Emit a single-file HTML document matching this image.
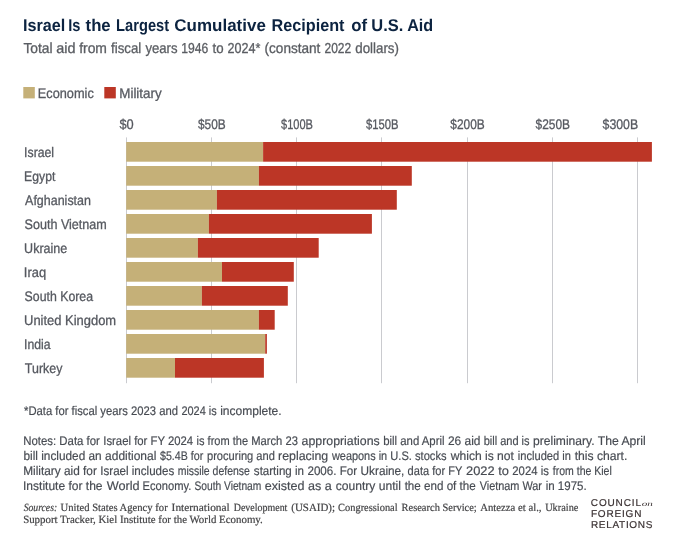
<!DOCTYPE html>
<html lang="en"><head><meta charset="utf-8"><title>Israel Is the Largest Cumulative Recipient of U.S. Aid</title>
<style>html,body{margin:0;padding:0;background:#fff}svg{display:block}text{text-rendering:geometricPrecision}</style></head>
<body>
<svg width="677" height="542" viewBox="0 0 677 542">
<rect width="677" height="542" fill="#ffffff"/>
<rect x="126" y="137.4" width="1" height="245.8" fill="#cacbcf"/>
<rect x="211" y="137.4" width="1" height="245.8" fill="#cacbcf"/>
<rect x="296" y="137.4" width="1" height="245.8" fill="#cacbcf"/>
<rect x="381" y="137.4" width="1" height="245.8" fill="#cacbcf"/>
<rect x="467" y="137.4" width="1" height="245.8" fill="#cacbcf"/>
<rect x="552" y="137.4" width="1" height="245.8" fill="#cacbcf"/>
<rect x="637" y="137.4" width="1" height="245.8" fill="#cacbcf"/>
<rect x="23.3" y="87.0" width="11.5" height="11.4" fill="#c5b078"/>
<rect x="104.3" y="87.0" width="11.5" height="11.4" fill="#bc3626"/>
<rect x="126.2" y="142" width="136.9" height="19.7" fill="#c5b078"/><rect x="263.1" y="142" width="388.8" height="19.7" fill="#bc3626"/>
<rect x="126.2" y="166" width="132.7" height="19.7" fill="#c5b078"/><rect x="258.9" y="166" width="152.9" height="19.7" fill="#bc3626"/>
<rect x="126.2" y="190" width="90.7" height="19.7" fill="#c5b078"/><rect x="216.9" y="190" width="179.9" height="19.7" fill="#bc3626"/>
<rect x="126.2" y="214" width="82.7" height="19.7" fill="#c5b078"/><rect x="208.9" y="214" width="163.0" height="19.7" fill="#bc3626"/>
<rect x="126.2" y="238" width="71.7" height="19.7" fill="#c5b078"/><rect x="197.9" y="238" width="120.8" height="19.7" fill="#bc3626"/>
<rect x="126.2" y="262" width="95.8" height="19.7" fill="#c5b078"/><rect x="222.0" y="262" width="71.8" height="19.7" fill="#bc3626"/>
<rect x="126.2" y="286" width="75.7" height="19.7" fill="#c5b078"/><rect x="201.9" y="286" width="85.9" height="19.7" fill="#bc3626"/>
<rect x="126.2" y="310" width="132.7" height="19.7" fill="#c5b078"/><rect x="258.9" y="310" width="15.8" height="19.7" fill="#bc3626"/>
<rect x="126.2" y="334" width="139.0" height="19.7" fill="#c5b078"/><rect x="265.2" y="334" width="1.7" height="19.7" fill="#bc3626"/>
<rect x="126.2" y="358" width="48.8" height="19.7" fill="#c5b078"/><rect x="175.0" y="358" width="88.9" height="19.7" fill="#bc3626"/>
<text y="30.60" font-family='"Liberation Sans", Arial, sans-serif' font-size="17" font-weight="bold" fill="#0c2340"><tspan x="23.00" textLength="42.35" lengthAdjust="spacingAndGlyphs" >Israel</tspan> <tspan x="68.30" textLength="12.20" lengthAdjust="spacingAndGlyphs" >Is</tspan> <tspan x="85.55" textLength="25.15" lengthAdjust="spacingAndGlyphs" >the</tspan> <tspan x="116.10" textLength="53.00" lengthAdjust="spacingAndGlyphs" >Largest</tspan> <tspan x="174.35" textLength="91.50" lengthAdjust="spacingAndGlyphs" >Cumulative</tspan> <tspan x="271.50" textLength="73.00" lengthAdjust="spacingAndGlyphs" >Recipient</tspan> <tspan x="351.15" textLength="15.85" lengthAdjust="spacingAndGlyphs" >of</tspan> <tspan x="371.30" textLength="32.00" lengthAdjust="spacingAndGlyphs" >U.S.</tspan> <tspan x="407.15" textLength="26.00" lengthAdjust="spacingAndGlyphs" >Aid</tspan></text>
<text y="53.40" font-family='"Liberation Sans", Arial, sans-serif' font-size="14.5" font-weight="normal" fill="#5a5d62" stroke="#5a5d62" stroke-width="0.3"><tspan x="23.40" textLength="29.20" lengthAdjust="spacingAndGlyphs" >Total</tspan> <tspan x="56.15" textLength="19.30" lengthAdjust="spacingAndGlyphs" >aid</tspan> <tspan x="79.15" textLength="27.80" lengthAdjust="spacingAndGlyphs" >from</tspan> <tspan x="111.00" textLength="30.25" lengthAdjust="spacingAndGlyphs" >fiscal</tspan> <tspan x="145.45" textLength="32.10" lengthAdjust="spacingAndGlyphs" >years</tspan> <tspan x="181.20" textLength="27.00" lengthAdjust="spacingAndGlyphs" >1946</tspan> <tspan x="212.50" textLength="11.05" lengthAdjust="spacingAndGlyphs" >to</tspan> <tspan x="227.60" textLength="32.90" lengthAdjust="spacingAndGlyphs" >2024*</tspan> <tspan x="264.55" textLength="55.85" lengthAdjust="spacingAndGlyphs" >(constant</tspan> <tspan x="324.45" textLength="26.75" lengthAdjust="spacingAndGlyphs" >2022</tspan> <tspan x="355.25" textLength="43.70" lengthAdjust="spacingAndGlyphs" >dollars)</tspan></text>
<text y="97.70" font-family='"Liberation Sans", Arial, sans-serif' font-size="14" font-weight="normal" fill="#565960" stroke="#565960" stroke-width="0.3"><tspan x="37.80" textLength="56.00" lengthAdjust="spacingAndGlyphs" >Economic</tspan></text>
<text y="97.70" font-family='"Liberation Sans", Arial, sans-serif' font-size="14" font-weight="normal" fill="#565960" stroke="#565960" stroke-width="0.3"><tspan x="119.25" textLength="42.45" lengthAdjust="spacingAndGlyphs" >Military</tspan></text>
<text y="128.80" font-family='"Liberation Sans", Arial, sans-serif' font-size="14" font-weight="normal" fill="#565960" stroke="#565960" stroke-width="0.3"><tspan x="119.45" textLength="14.25" lengthAdjust="spacingAndGlyphs" >$0</tspan></text>
<text y="128.80" font-family='"Liberation Sans", Arial, sans-serif' font-size="14" font-weight="normal" fill="#565960" stroke="#565960" stroke-width="0.3"><tspan x="197.95" textLength="27.75" lengthAdjust="spacingAndGlyphs" >$50B</tspan></text>
<text y="128.80" font-family='"Liberation Sans", Arial, sans-serif' font-size="14" font-weight="normal" fill="#565960" stroke="#565960" stroke-width="0.3"><tspan x="281.00" textLength="31.90" lengthAdjust="spacingAndGlyphs" >$100B</tspan></text>
<text y="128.80" font-family='"Liberation Sans", Arial, sans-serif' font-size="14" font-weight="normal" fill="#565960" stroke="#565960" stroke-width="0.3"><tspan x="366.00" textLength="32.40" lengthAdjust="spacingAndGlyphs" >$150B</tspan></text>
<text y="128.80" font-family='"Liberation Sans", Arial, sans-serif' font-size="14" font-weight="normal" fill="#565960" stroke="#565960" stroke-width="0.3"><tspan x="450.35" textLength="34.45" lengthAdjust="spacingAndGlyphs" >$200B</tspan></text>
<text y="128.80" font-family='"Liberation Sans", Arial, sans-serif' font-size="14" font-weight="normal" fill="#565960" stroke="#565960" stroke-width="0.3"><tspan x="535.60" textLength="34.45" lengthAdjust="spacingAndGlyphs" >$250B</tspan></text>
<text y="128.80" font-family='"Liberation Sans", Arial, sans-serif' font-size="14" font-weight="normal" fill="#565960" stroke="#565960" stroke-width="0.3"><tspan x="602.60" textLength="35.55" lengthAdjust="spacingAndGlyphs" >$300B</tspan></text>
<text y="156.80" font-family='"Liberation Sans", Arial, sans-serif' font-size="13.8" font-weight="normal" fill="#565960" stroke="#565960" stroke-width="0.3"><tspan x="24.10" textLength="30.00" lengthAdjust="spacingAndGlyphs" >Israel</tspan></text>
<text y="180.80" font-family='"Liberation Sans", Arial, sans-serif' font-size="13.8" font-weight="normal" fill="#565960" stroke="#565960" stroke-width="0.3"><tspan x="24.10" textLength="31.30" lengthAdjust="spacingAndGlyphs" >Egypt</tspan></text>
<text y="204.80" font-family='"Liberation Sans", Arial, sans-serif' font-size="13.8" font-weight="normal" fill="#565960" stroke="#565960" stroke-width="0.3"><tspan x="25.10" textLength="65.85" lengthAdjust="spacingAndGlyphs" >Afghanistan</tspan></text>
<text y="228.80" font-family='"Liberation Sans", Arial, sans-serif' font-size="13.8" font-weight="normal" fill="#565960" stroke="#565960" stroke-width="0.3"><tspan x="24.60" textLength="82.20" lengthAdjust="spacingAndGlyphs" >South Vietnam</tspan></text>
<text y="252.80" font-family='"Liberation Sans", Arial, sans-serif' font-size="13.8" font-weight="normal" fill="#565960" stroke="#565960" stroke-width="0.3"><tspan x="24.10" textLength="43.15" lengthAdjust="spacingAndGlyphs" >Ukraine</tspan></text>
<text y="276.80" font-family='"Liberation Sans", Arial, sans-serif' font-size="13.8" font-weight="normal" fill="#565960" stroke="#565960" stroke-width="0.3"><tspan x="23.85" textLength="22.25" lengthAdjust="spacingAndGlyphs" >Iraq</tspan></text>
<text y="300.80" font-family='"Liberation Sans", Arial, sans-serif' font-size="13.8" font-weight="normal" fill="#565960" stroke="#565960" stroke-width="0.3"><tspan x="24.60" textLength="68.45" lengthAdjust="spacingAndGlyphs" >South Korea</tspan></text>
<text y="324.80" font-family='"Liberation Sans", Arial, sans-serif' font-size="13.8" font-weight="normal" fill="#565960" stroke="#565960" stroke-width="0.3"><tspan x="24.10" textLength="92.00" lengthAdjust="spacingAndGlyphs" >United Kingdom</tspan></text>
<text y="348.80" font-family='"Liberation Sans", Arial, sans-serif' font-size="13.8" font-weight="normal" fill="#565960" stroke="#565960" stroke-width="0.3"><tspan x="24.10" textLength="26.50" lengthAdjust="spacingAndGlyphs" >India</tspan></text>
<text y="372.80" font-family='"Liberation Sans", Arial, sans-serif' font-size="13.8" font-weight="normal" fill="#565960" stroke="#565960" stroke-width="0.3"><tspan x="24.85" textLength="37.55" lengthAdjust="spacingAndGlyphs" >Turkey</tspan></text>
<text y="414.70" font-family='"Liberation Sans", Arial, sans-serif' font-size="12.5" font-weight="normal" fill="#474b52" stroke="#474b52" stroke-width="0.18"><tspan x="24.00" textLength="154.00" lengthAdjust="spacingAndGlyphs" >*Data for fiscal years 2023 and</tspan> <tspan x="181.45" textLength="35.30" lengthAdjust="spacingAndGlyphs" >2024 is</tspan> <tspan x="220.20" textLength="61.45" lengthAdjust="spacingAndGlyphs" >incomplete.</tspan></text>
<text y="444.80" font-family='"Liberation Sans", Arial, sans-serif' font-size="12.5" font-weight="normal" fill="#474b52" stroke="#474b52" stroke-width="0.18"><tspan x="23.25" textLength="76.60" lengthAdjust="spacingAndGlyphs" >Notes: Data for</tspan> <tspan x="103.30" textLength="89.80" lengthAdjust="spacingAndGlyphs" >Israel for FY 2024</tspan> <tspan x="196.55" textLength="51.50" lengthAdjust="spacingAndGlyphs" >is from the</tspan> <tspan x="251.25" textLength="46.65" lengthAdjust="spacingAndGlyphs" >March 23</tspan> <tspan x="301.60" textLength="78.15" lengthAdjust="spacingAndGlyphs" >appropriations</tspan> <tspan x="383.20" textLength="61.30" lengthAdjust="spacingAndGlyphs" >bill and April</tspan> <tspan x="447.95" textLength="32.50" lengthAdjust="spacingAndGlyphs" >26 aid</tspan> <tspan x="483.65" textLength="45.95" lengthAdjust="spacingAndGlyphs" >bill and is</tspan> <tspan x="533.05" textLength="61.45" lengthAdjust="spacingAndGlyphs" >preliminary.</tspan> <tspan x="597.70" textLength="48.10" lengthAdjust="spacingAndGlyphs" >The April</tspan></text>
<text y="459.75" font-family='"Liberation Sans", Arial, sans-serif' font-size="12.5" font-weight="normal" fill="#474b52" stroke="#474b52" stroke-width="0.18"><tspan x="23.50" textLength="78.15" lengthAdjust="spacingAndGlyphs" >bill included an</tspan> <tspan x="105.10" textLength="51.20" lengthAdjust="spacingAndGlyphs" >additional</tspan> <tspan x="160.00" textLength="43.30" lengthAdjust="spacingAndGlyphs" >$5.4B for</tspan> <tspan x="207.00" textLength="67.85" lengthAdjust="spacingAndGlyphs" >procuring and</tspan> <tspan x="278.05" textLength="50.20" lengthAdjust="spacingAndGlyphs" >replacing</tspan> <tspan x="331.95" textLength="55.20" lengthAdjust="spacingAndGlyphs" >weapons in</tspan> <tspan x="390.35" textLength="56.20" lengthAdjust="spacingAndGlyphs" >U.S. stocks</tspan> <tspan x="450.75" textLength="63.15" lengthAdjust="spacingAndGlyphs" >which is not</tspan> <tspan x="517.85" textLength="53.10" lengthAdjust="spacingAndGlyphs" >included in</tspan> <tspan x="574.65" textLength="52.70" lengthAdjust="spacingAndGlyphs" >this chart.</tspan></text>
<text y="474.70" font-family='"Liberation Sans", Arial, sans-serif' font-size="12.5" font-weight="normal" fill="#474b52" stroke="#474b52" stroke-width="0.18"><tspan x="23.25" textLength="73.60" lengthAdjust="spacingAndGlyphs" >Military aid for</tspan> <tspan x="100.30" textLength="73.95" lengthAdjust="spacingAndGlyphs" >Israel includes</tspan> <tspan x="177.70" textLength="72.20" lengthAdjust="spacingAndGlyphs" >missile defense</tspan> <tspan x="253.85" textLength="50.15" lengthAdjust="spacingAndGlyphs" >starting in</tspan> <tspan x="307.45" textLength="49.70" lengthAdjust="spacingAndGlyphs" >2006. For</tspan> <tspan x="360.60" textLength="43.80" lengthAdjust="spacingAndGlyphs" >Ukraine,</tspan> <tspan x="407.60" textLength="54.45" lengthAdjust="spacingAndGlyphs" >data for FY</tspan> <tspan x="466.00" textLength="42.85" lengthAdjust="spacingAndGlyphs" >2022 to</tspan> <tspan x="512.30" textLength="36.60" lengthAdjust="spacingAndGlyphs" >2024 is</tspan> <tspan x="552.85" textLength="58.95" lengthAdjust="spacingAndGlyphs" >from the Kiel</tspan></text>
<text y="489.65" font-family='"Liberation Sans", Arial, sans-serif' font-size="12.5" font-weight="normal" fill="#474b52" stroke="#474b52" stroke-width="0.18"><tspan x="23.00" textLength="79.55" lengthAdjust="spacingAndGlyphs" >Institute for the</tspan> <tspan x="106.75" textLength="32.85" lengthAdjust="spacingAndGlyphs" >World</tspan> <tspan x="142.55" textLength="48.70" lengthAdjust="spacingAndGlyphs" >Economy.</tspan> <tspan x="194.45" textLength="66.90" lengthAdjust="spacingAndGlyphs" >South Vietnam</tspan> <tspan x="264.80" textLength="66.90" lengthAdjust="spacingAndGlyphs" >existed as a</tspan> <tspan x="335.65" textLength="65.30" lengthAdjust="spacingAndGlyphs" >country until</tspan> <tspan x="404.65" textLength="71.05" lengthAdjust="spacingAndGlyphs" >the end of the</tspan> <tspan x="479.65" textLength="62.35" lengthAdjust="spacingAndGlyphs" >Vietnam War</tspan> <tspan x="545.70" textLength="41.00" lengthAdjust="spacingAndGlyphs" >in 1975.</tspan></text>
<text y="511.30" font-family='"Liberation Serif", "Times New Roman", serif' font-size="11" font-weight="normal" fill="#444446" stroke="#444446" stroke-width="0.2"><tspan x="23.65" textLength="33.50" lengthAdjust="spacingAndGlyphs" font-style="italic">Sources:</tspan> <tspan x="60.55" textLength="107.15" lengthAdjust="spacingAndGlyphs" >United States Agency for</tspan> <tspan x="171.60" textLength="58.20" lengthAdjust="spacingAndGlyphs" >International</tspan> <tspan x="233.70" textLength="53.70" lengthAdjust="spacingAndGlyphs" >Development</tspan> <tspan x="291.30" textLength="43.65" lengthAdjust="spacingAndGlyphs" >(USAID);</tspan> <tspan x="338.10" textLength="59.55" lengthAdjust="spacingAndGlyphs" >Congressional</tspan> <tspan x="401.55" textLength="75.20" lengthAdjust="spacingAndGlyphs" >Research Service;</tspan> <tspan x="480.15" textLength="61.35" lengthAdjust="spacingAndGlyphs" >Antezza et al.,</tspan> <tspan x="545.15" textLength="33.25" lengthAdjust="spacingAndGlyphs" >Ukraine</tspan></text>
<text y="522.70" font-family='"Liberation Serif", "Times New Roman", serif' font-size="11" font-weight="normal" fill="#444446" stroke="#444446" stroke-width="0.2"><tspan x="23.15" textLength="239.65" lengthAdjust="spacingAndGlyphs" >Support Tracker, Kiel Institute for the World Economy.</tspan></text>
<text y="505.60" font-family='"Liberation Sans", Arial, sans-serif' font-size="10" font-weight="normal" fill="#3b3233"><tspan x="590.80" textLength="50.15" lengthAdjust="spacing" stroke="#3b3233" stroke-width="0.2" style="text-rendering:geometricPrecision">COUNCIL</tspan></text>
<text y="505.70" font-family='"Liberation Serif", "Times New Roman", serif' font-size="7" font-weight="normal" fill="#3b3233"><tspan x="641.70" textLength="11.15" lengthAdjust="spacingAndGlyphs" font-style="italic">on</tspan></text>
<text y="516.60" font-family='"Liberation Sans", Arial, sans-serif' font-size="10" font-weight="normal" fill="#3b3233"><tspan x="590.90" textLength="50.55" lengthAdjust="spacing" stroke="#3b3233" stroke-width="0.2" style="text-rendering:geometricPrecision">FOREIGN</tspan></text>
<text y="527.60" font-family='"Liberation Sans", Arial, sans-serif' font-size="10" font-weight="normal" fill="#3b3233"><tspan x="590.90" textLength="61.55" lengthAdjust="spacing" stroke="#3b3233" stroke-width="0.2" style="text-rendering:geometricPrecision">RELATIONS</tspan></text>
</svg>
</body></html>
